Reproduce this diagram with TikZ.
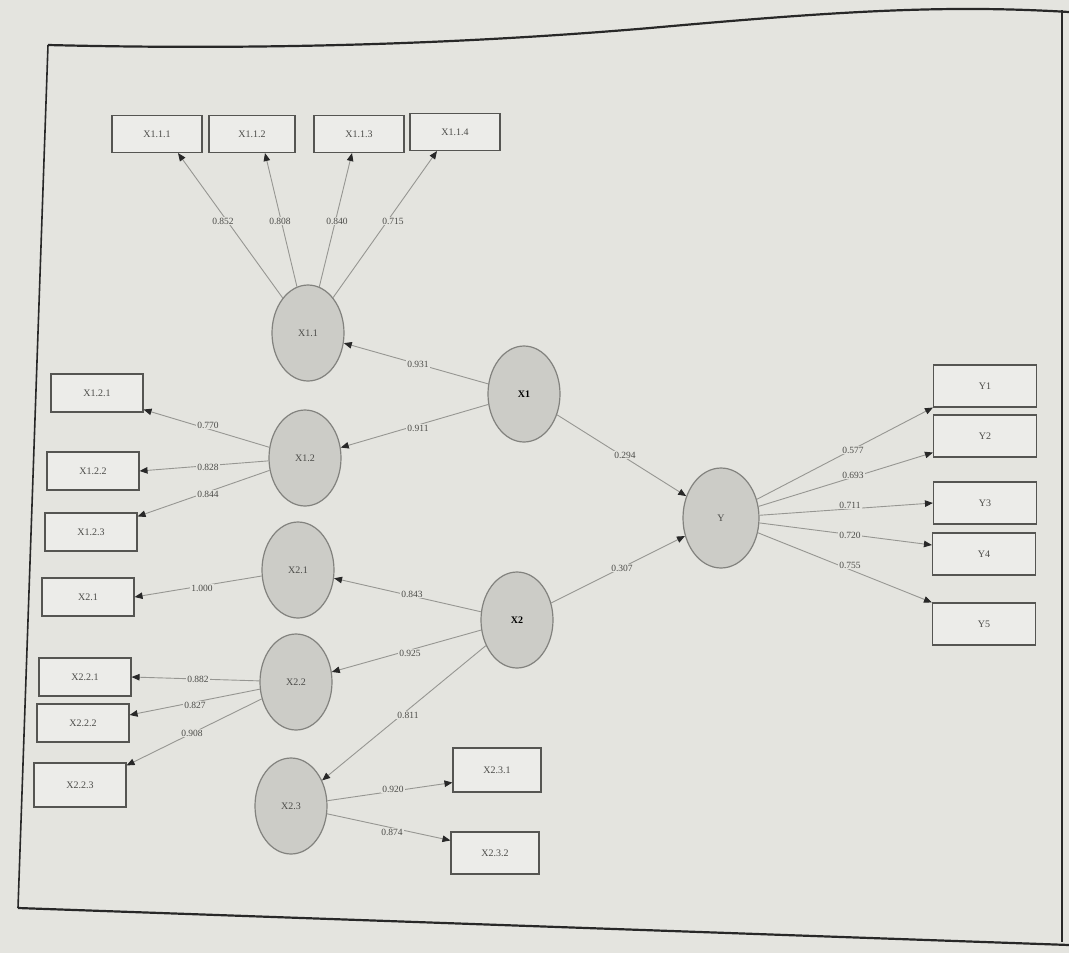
\documentclass[tikz,border=0pt]{standalone}
\usepackage{fontspec}
\setmainfont{Liberation Serif}
\usetikzlibrary{shapes.geometric,arrows.meta}
\definecolor{paper}{RGB}{228,228,223}
\definecolor{latfill}{RGB}{204,204,199}
\definecolor{latdraw}{RGB}{130,130,126}
\definecolor{boxdraw}{RGB}{85,85,82}
\definecolor{txt}{RGB}{75,75,72}
\definecolor{linec}{RGB}{150,150,146}
\definecolor{tipc}{RGB}{40,40,40}
\definecolor{framec}{RGB}{40,40,40}
\tikzset{
  lat/.style={ellipse,draw=latdraw,fill=latfill,line width=1.2pt,minimum width=72pt,minimum height=96pt,inner sep=0pt,text=txt,font=\fontsize{10}{11}\selectfont},
  latb/.style={lat,font=\fontsize{10}{11}\selectfont\bfseries,text=black},
  ind/.style={rectangle,draw=boxdraw,fill=paper!70!white,line width=1.1pt,minimum width=92pt,minimum height=38pt,inner sep=0pt,text=txt,font=\fontsize{10}{11}\selectfont},
  conn/.style={draw=linec,line width=0.9pt,-{Triangle[length=8pt,width=6.5pt,color=tipc]}},
  wt/.style={fill=paper,inner sep=1pt,text=txt,font=\fontsize{9.5}{10}\selectfont},
}
\begin{document}
\begin{tikzpicture}[x=1pt,y=-1pt]
\useasboundingbox[fill=paper] (0,0) rectangle (1069,953);
% frame
\draw[framec,line width=2.2pt] (48,45) .. controls (250,50) and (450,45) .. (650,28) .. controls (850,10) and (950,5) .. (1069,12);
\draw[framec,line width=1.6pt] (48,45) -- (18,908);
\draw[framec,line width=2.2pt] (18,908) -- (1069,945);
\draw[framec,line width=1.4pt] (1062,10) -- (1062,942);
% latent variables
\node[lat] (X11) at (308,333) {X1.1};
\node[lat] (X12) at (305,458) {X1.2};
\node[lat] (X21) at (298,570) {X2.1};
\node[lat] (X22) at (296,682) {X2.2};
\node[lat] (X23) at (291,806) {X2.3};
\node[latb] (X1) at (524,394) {X1};
\node[latb] (X2) at (517,620) {X2};
\node[lat,minimum width=76pt,minimum height=100pt] (Y) at (721,518) {Y};
% indicators
\node[ind,minimum width=90pt,minimum height=37pt] (X111) at (157,134) {X1.1.1};
\node[ind,minimum width=86pt,minimum height=37pt] (X112) at (252,134) {X1.1.2};
\node[ind,minimum width=90pt,minimum height=37pt] (X113) at (359,134) {X1.1.3};
\node[ind,minimum width=90pt,minimum height=37pt] (X114) at (455,132) {X1.1.4};
\node[ind] (X121) at (97,393) {X1.2.1};
\node[ind] (X122) at (93,471) {X1.2.2};
\node[ind] (X123) at (91,532) {X1.2.3};
\node[ind] (X21b) at (88,597) {X2.1};
\node[ind] (X221) at (85,677) {X2.2.1};
\node[ind] (X222) at (83,723) {X2.2.2};
\node[ind,minimum height=44pt] (X223) at (80,785) {X2.2.3};
\node[ind,minimum width=88pt,minimum height=44pt] (X231) at (497,770) {X2.3.1};
\node[ind,minimum width=88pt,minimum height=42pt] (X232) at (495,853) {X2.3.2};
\node[ind,minimum width=103pt,minimum height=42pt] (Y1) at (985,386) {Y1};
\node[ind,minimum width=103pt,minimum height=42pt] (Y2) at (985,436) {Y2};
\node[ind,minimum width=103pt,minimum height=42pt] (Y3) at (985,503) {Y3};
\node[ind,minimum width=103pt,minimum height=42pt] (Y4) at (984,554) {Y4};
\node[ind,minimum width=103pt,minimum height=42pt] (Y5) at (984,624) {Y5};
% connectors
\draw[conn] (X11) -- ([xshift=21pt]X111.south);
\draw[conn] (X11) -- ([xshift=13pt]X112.south);
\draw[conn] (X11) -- ([xshift=-7pt]X113.south);
\draw[conn] (X11) -- ([xshift=-18pt]X114.south);
\draw[conn] (X1) -- (X11);
\draw[conn] (X1) -- (X12);
\draw[conn] (X12) -- ([yshift=3pt]X121.south east);
\draw[conn] (X12) -- (X122.east);
\draw[conn] (X12) -- ([yshift=-4pt]X123.north east);
\draw[conn] (X21) -- (X21b.east);
\draw[conn] (X2) -- (X21);
\draw[conn] (X2) -- (X22);
\draw[conn] (X2) -- (X23);
\draw[conn] (X22) -- (X221.east);
\draw[conn] (X22) -- ([yshift=8pt]X222.east);
\draw[conn] (X22) -- ([yshift=-3pt]X223.north east);
\draw[conn] (X23) -- ([yshift=10pt]X231.south west);
\draw[conn] (X23) -- ([yshift=-9pt]X232.north west);
\draw[conn] (X1) -- (Y);
\draw[conn] (X2) -- (Y);
\draw[conn] (Y) -- (Y1.south west);
\draw[conn] (Y) -- ([yshift=5pt]Y2.south west);
\draw[conn] (Y) -- (Y3.west);
\draw[conn] (Y) -- ([yshift=9pt]Y4.west);
\draw[conn] (Y) -- (Y5.north west);
% weights
\node[wt] (w1) at (223,221) {0.852};
\node[wt] (w2) at (280,221) {0.808};
\node[wt] (w3) at (337,221) {0.840};
\node[wt] (w4) at (393,221) {0.715};
\node[wt] (w5) at (418,364) {0.931};
\node[wt] (w6) at (418,428) {0.911};
\node[wt] (w7) at (208,425) {0.770};
\node[wt] (w8) at (208,467) {0.828};
\node[wt] (w9) at (208,494) {0.844};
\node[wt] (w10) at (202,588) {1.000};
\node[wt] (w11) at (412,594) {0.843};
\node[wt] (w12) at (410,653) {0.925};
\node[wt] (w13) at (408,715) {0.811};
\node[wt] (w14) at (198,679) {0.882};
\node[wt] (w15) at (195,705) {0.827};
\node[wt] (w16) at (192,733) {0.908};
\node[wt] (w17) at (393,789) {0.920};
\node[wt] (w18) at (392,832) {0.874};
\node[wt] (w19) at (625,455) {0.294};
\node[wt] (w20) at (622,568) {0.307};
\node[wt] (w21) at (853,450) {0.577};
\node[wt] (w22) at (853,475) {0.693};
\node[wt] (w23) at (850,505) {0.711};
\node[wt] (w24) at (850,535) {0.720};
\node[wt] (w25) at (850,565) {0.755};
\end{tikzpicture}
\end{document}
